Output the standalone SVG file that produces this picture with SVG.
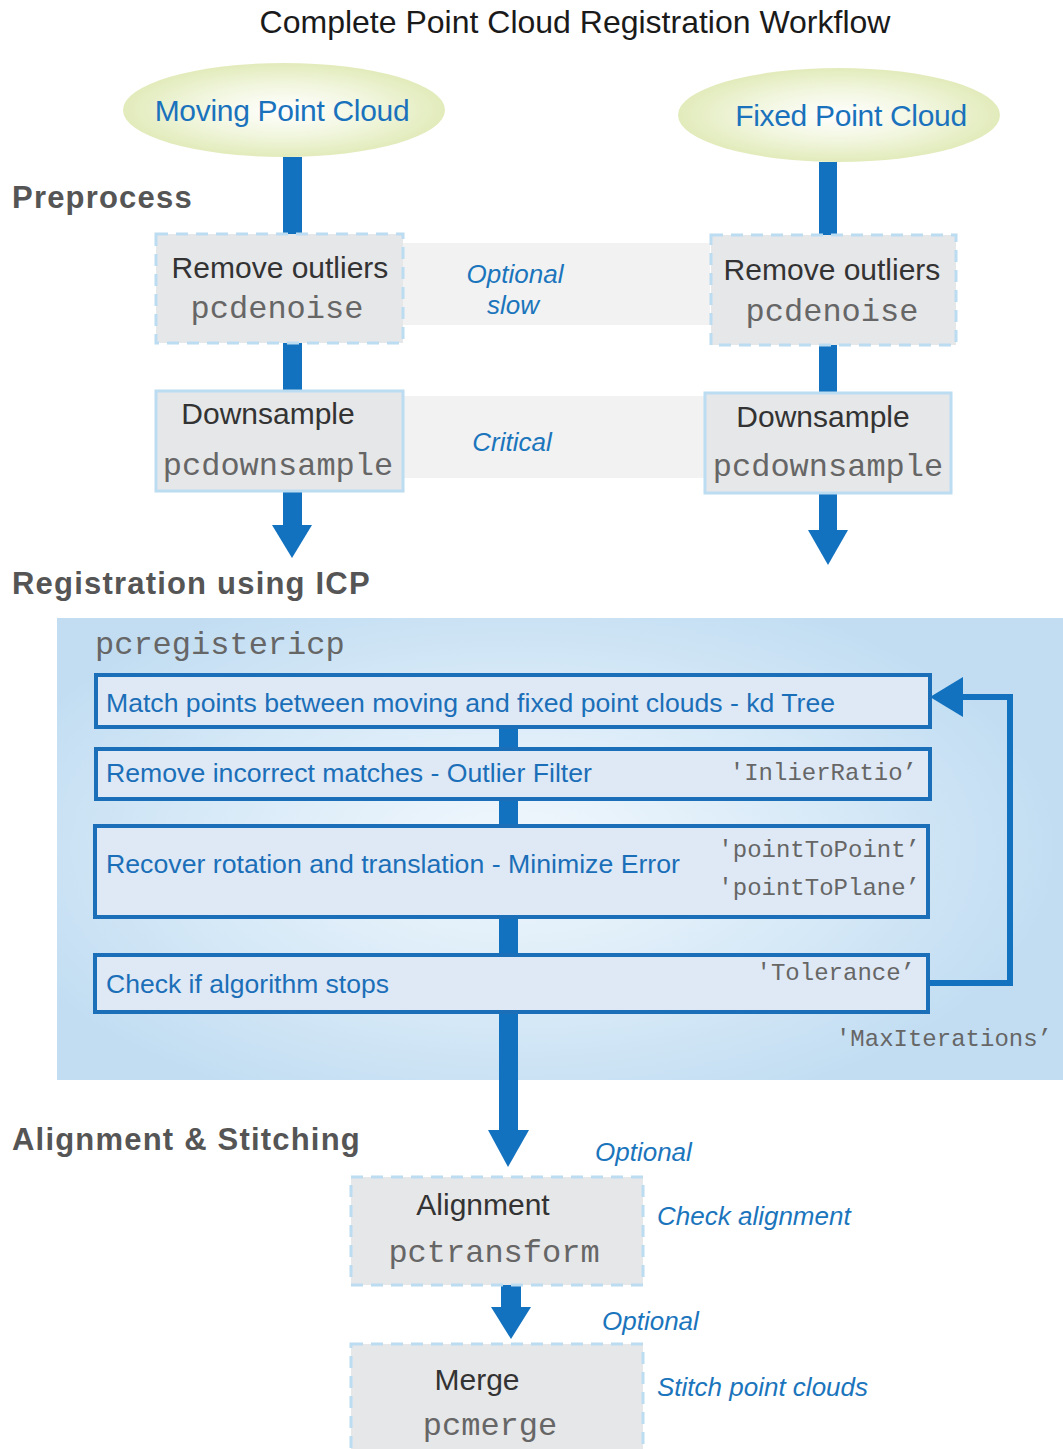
<svg xmlns="http://www.w3.org/2000/svg" width="1063" height="1449" viewBox="0 0 1063 1449">
<defs>
<radialGradient id="ellG" cx="50%" cy="50%" r="50%">
<stop offset="0" stop-color="#ffffff"/>
<stop offset="0.55" stop-color="#f1f6de"/>
<stop offset="1" stop-color="#e2ebbb"/>
</radialGradient>
<radialGradient id="panelG" cx="0.45" cy="0.5" r="0.6" gradientTransform="translate(0.05 0) scale(0.9 1)">
<stop offset="0" stop-color="#f2f8fd"/>
<stop offset="0.6" stop-color="#d6e9f7"/>
<stop offset="1" stop-color="#c2ddf2"/>
</radialGradient>
<style>
.title{font-family:"Liberation Sans",Arial,sans-serif;font-size:32px;fill:#1a1a1a}
.sec{font-family:"Liberation Sans",Arial,sans-serif;font-size:31px;font-weight:bold;fill:#555;letter-spacing:1.2px}
.ell{font-family:"Liberation Sans",Arial,sans-serif;font-size:30px;fill:#1a72bd;letter-spacing:-0.3px}
.lbl{font-family:"Liberation Sans",Arial,sans-serif;font-size:30px;fill:#333}
.code{font-family:"Liberation Mono","Courier New",monospace;font-size:32px;fill:#666}
.ital{font-family:"Liberation Sans",Arial,sans-serif;font-size:26px;font-style:italic;fill:#1b75bc}
.step{font-family:"Liberation Sans",Arial,sans-serif;font-size:25px;fill:#1b6fb8}
.param{font-family:"Liberation Mono","Courier New",monospace;font-size:24px;fill:#666}
.gbox{fill:#e6e7e9}
.dash{stroke:#bcdcf2;stroke-width:3;stroke-dasharray:12 8}
.solid{stroke:#bcdcf2;stroke-width:3}
.band{fill:#f2f2f2}
.sbox{fill:#dfe9f5;stroke:#1a6fb8;stroke-width:4}
.bar{fill:#1272bf}
</style>
</defs>
<rect width="1063" height="1449" fill="#ffffff"/>

<text class="title" x="575" y="33" text-anchor="middle">Complete Point Cloud Registration Workflow</text>

<text class="sec" x="12" y="208">Preprocess</text>
<text class="sec" x="12" y="594">Registration using ICP</text>
<text class="sec" x="12" y="1150">Alignment &amp; Stitching</text>

<!-- bands -->
<g id="band-optional">
<rect class="band" x="403" y="243" width="307" height="82"/>
<text class="ital" x="515" y="283" text-anchor="middle">Optional</text>
<text class="ital" x="513" y="314" text-anchor="middle">slow</text>
</g>
<g id="band-critical">
<rect class="band" x="403" y="396" width="301" height="82"/>
<text class="ital" x="512" y="451" text-anchor="middle">Critical</text>
</g>

<!-- panel -->
<g id="icp-panel">
<rect x="57" y="618" width="1006" height="462" fill="url(#panelG)"/>
<text class="code" x="95" y="654">pcregistericp</text>
<text class="param" x="1052" y="1046" text-anchor="end">'MaxIterations’</text>
</g>

<g id="connectors">
<rect class="bar" x="283" y="157" width="19" height="77"/>
<rect class="bar" x="819" y="162" width="18" height="73"/>
<rect class="bar" x="283" y="342" width="19" height="49"/>
<rect class="bar" x="819" y="345" width="18" height="48"/>
<rect class="bar" x="283" y="491" width="19" height="36"/>
<polygon class="bar" points="272,525 312,525 292,558"/>
<rect class="bar" x="819" y="493" width="18" height="39"/>
<polygon class="bar" points="808,530 848,530 828,565"/>
<rect class="bar" x="499" y="726" width="19" height="23"/>
<rect class="bar" x="499" y="798" width="19" height="29"/>
<rect class="bar" x="499" y="916" width="19" height="39"/>
<rect class="bar" x="499" y="1011" width="19" height="121"/>
<polygon class="bar" points="488,1130 529,1130 508,1167"/>
<polyline points="930,983 1010,983 1010,697 958,697" fill="none" stroke="#1272bf" stroke-width="6"/>
<polygon class="bar" points="930,697 963,677 963,717"/>
<rect class="bar" x="501" y="1285" width="20" height="24"/>
<polygon class="bar" points="491,1307 531,1307 511,1339"/>
</g>

<g id="moving-cloud">
<ellipse cx="284" cy="110" rx="161" ry="47" fill="url(#ellG)"/>
<text class="ell" x="282" y="121" text-anchor="middle">Moving Point Cloud</text>
</g>
<g id="fixed-cloud">
<ellipse cx="839" cy="115" rx="161" ry="47" fill="url(#ellG)"/>
<text class="ell" x="851" y="126" text-anchor="middle">Fixed Point Cloud</text>
</g>

<g id="denoise-moving">
<rect class="gbox dash" x="156" y="234" width="247" height="109"/>
<text class="lbl" x="280" y="278" text-anchor="middle">Remove outliers</text>
<text class="code" x="277" y="318" text-anchor="middle">pcdenoise</text>
</g>
<g id="denoise-fixed">
<rect class="gbox dash" x="711" y="235" width="245" height="110"/>
<text class="lbl" x="832" y="280" text-anchor="middle">Remove outliers</text>
<text class="code" x="832" y="321" text-anchor="middle">pcdenoise</text>
</g>

<g id="downsample-moving">
<rect class="gbox solid" x="156" y="391" width="247" height="100"/>
<text class="lbl" x="268" y="424" text-anchor="middle">Downsample</text>
<text class="code" x="278" y="475" text-anchor="middle">pcdownsample</text>
</g>
<g id="downsample-fixed">
<rect class="gbox solid" x="705" y="393" width="246" height="100"/>
<text class="lbl" x="823" y="427" text-anchor="middle">Downsample</text>
<text class="code" x="828" y="476" text-anchor="middle">pcdownsample</text>
</g>

<g id="step-match">
<rect class="sbox" x="96" y="675" width="834" height="52"/>
<text class="step" x="106" y="712" textLength="729" lengthAdjust="spacingAndGlyphs">Match points between moving and fixed point clouds - kd Tree</text>
</g>
<g id="step-outlier">
<rect class="sbox" x="96" y="749" width="834" height="50"/>
<text class="step" x="106" y="782" textLength="486" lengthAdjust="spacingAndGlyphs">Remove incorrect matches - Outlier Filter</text>
<text class="param" x="917" y="780" text-anchor="end">'InlierRatio’</text>
</g>
<g id="step-minimize">
<rect class="sbox" x="95" y="826" width="833" height="91"/>
<text class="step" x="106" y="873" textLength="574" lengthAdjust="spacingAndGlyphs">Recover rotation and translation - Minimize Error</text>
<text class="param" x="920" y="857" text-anchor="end">'pointToPoint’</text>
<text class="param" x="920" y="895" text-anchor="end">'pointToPlane’</text>
</g>
<g id="step-check">
<rect class="sbox" x="95" y="955" width="833" height="57"/>
<text class="step" x="106" y="993" textLength="283" lengthAdjust="spacingAndGlyphs">Check if algorithm stops</text>
<text class="param" x="915" y="980" text-anchor="end">'Tolerance’</text>
</g>

<g id="alignment">
<rect class="gbox dash" x="351" y="1177" width="292" height="108"/>
<text class="lbl" x="483" y="1215" text-anchor="middle">Alignment</text>
<text class="code" x="494" y="1262" text-anchor="middle">pctransform</text>
<text class="ital" x="595" y="1161">Optional</text>
<text class="ital" x="657" y="1225">Check alignment</text>
</g>
<g id="merge">
<rect class="gbox dash" x="351" y="1344" width="292" height="110"/>
<text class="lbl" x="477" y="1390" text-anchor="middle">Merge</text>
<text class="code" x="490" y="1435" text-anchor="middle">pcmerge</text>
<text class="ital" x="602" y="1330">Optional</text>
<text class="ital" x="657" y="1396">Stitch point clouds</text>
</g>
</svg>
